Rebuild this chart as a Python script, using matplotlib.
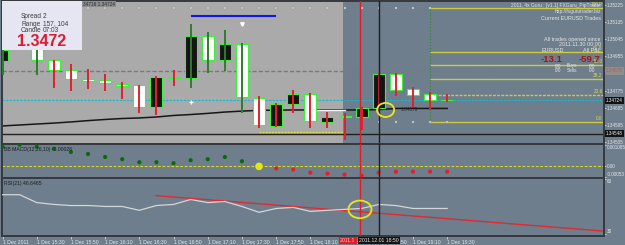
import matplotlib
matplotlib.use("Agg")
import matplotlib.pyplot as plt
from matplotlib.patches import Ellipse, Rectangle
import numpy as np

plt.rcParams['font.family'] = ['Liberation Sans', 'DejaVu Sans']

# ------------------------------------------------------------------ data
opens  = [1.34930, 1.35004, 1.35030, 1.34936, 1.34883, 1.34836, 1.34830, 1.34809, 1.34804,
          1.34689, 1.34846, 1.34841, 1.35062, 1.34936, 1.35020, 1.34736, 1.34589, 1.34704,
          1.34757, 1.34610, 1.34641, 1.34636, 1.34683, 1.34862, 1.34783, 1.34757, 1.34728]
highs  = [1.35009, 1.35062, 1.35051, 1.34936, 1.34915, 1.34888, 1.34862, 1.34820, 1.34804,
          1.34852, 1.34883, 1.35125, 1.35083, 1.35093, 1.35025, 1.34746, 1.34710, 1.34778,
          1.34762, 1.34662, 1.34657, 1.34689, 1.34867, 1.34867, 1.34794, 1.34767, 1.34757]
lows   = [1.34857, 1.34999, 1.34857, 1.34788, 1.34773, 1.34783, 1.34773, 1.34731, 1.34657,
          1.34646, 1.34799, 1.34788, 1.34867, 1.34878, 1.34657, 1.34578, 1.34583, 1.34657,
          1.34578, 1.34578, 1.34515, 1.34568, 1.34673, 1.34746, 1.34683, 1.34673, 1.34715]
closes = [1.34988, 1.35046, 1.34936, 1.34883, 1.34836, 1.34825, 1.34815, 1.34799, 1.34689,
          1.34846, 1.34843, 1.35062, 1.34936, 1.35020, 1.34741, 1.34594, 1.34704, 1.34757,
          1.34615, 1.34636, 1.34638, 1.34683, 1.34862, 1.34778, 1.34752, 1.34725, 1.34724]
wick_green = [0, 1, 2, 11, 12, 13, 14]

ma_vals = [1.34589, 1.34594, 1.34599, 1.34604, 1.34610, 1.34617, 1.34623, 1.34628, 1.34631,
           1.34636, 1.34644, 1.34649, 1.34655, 1.34662, 1.34667, 1.34671, 1.34672, 1.34673,
           1.34673, 1.34673, 1.34673, 1.34673, 1.34675, 1.34681, 1.34681, 1.34681, 1.34681]

macd_vals = [0.00098, 0.00109, 0.00098, 0.00088, 0.00072, 0.00062, 0.00047, 0.00036, 0.00021,
             0.00021, 0.00016, 0.00031, 0.00036, 0.00047, 0.00026, 0.00000, -0.00010, -0.00016,
             -0.00031, -0.00036, -0.00041, -0.00047, -0.00031, -0.00026, -0.00026, -0.00026, -0.00026]

rsi_vals = [51.4, 51.4, 47.1, 46.1, 45.5, 45.5, 45.0, 45.0, 42.9, 45.5, 46.1, 48.8, 47.1, 47.7,
            45.0, 41.8, 43.9, 44.5, 42.3, 42.9, 43.4, 43.9, 46.1, 45.5, 43.9, 43.9, 43.9]
rsi_trend_x = [8.98, 35.1]
rsi_trend_y = [50.9, 31.6]

time_label_idx = [0, 2, 4, 6, 8, 10, 12, 14, 16, 18, 20, 22, 24, 26]
time_labels = ["1 Dec 2011", "1 Dec 15:30", "1 Dec 15:50", "1 Dec 16:10", "1 Dec 16:30",
               "1 Dec 16:50", "1 Dec 17:10", "1 Dec 17:30", "1 Dec 17:50", "1 Dec 18:10",
               "1 Dec 18:30", "1 Dec 18:50", "1 Dec 19:10", "1 Dec 19:30"]

price_ticks = [1.35225, 1.35135, 1.35045, 1.34955, 1.34865, 1.34775, 1.34685, 1.34595, 1.34505]
price_tick_labels = ["1.35225", "1.35135", "1.35045", "1.34955", "1.34865", "1.34775",
                     "1.34685", "1.34595", "1.34505"]
macd_ticks = [0.001085, 0.0, -0.00053]
macd_tick_labels = ["0.001085", "0.00", "-0.00053"]
rsi_ticks = [60, 30]
rsi_tick_labels = ["60", "30"]

fib_names = ["0.0", "23.6", "38.2", "50.0", "61.8", "100.0"]
fib_prices = [1.34610, 1.34752, 1.34838, 1.34909, 1.34980, 1.35209]
fib_start = 25

bid_price = 1.34724
dash_price = 1.34878
black_price = 1.34548
blue_price, blue_from, blue_to = 1.35167, 11, 16
ydot_price, ydot_from, ydot_to = 1.34557, 15, 20
white_seg_x, white_seg_y = [18, 20], [1.34673, 1.34673]
top_marks_idx = list(range(5, 26))
top_marks_price = 1.35209
low_marks_idx = [22, 23, 24, 25, 26]
low_marks_price = 1.34610
red_vline, black_vline = 20.93, 22.0
gray_until = 19.9

# ------------------------------------------------------------------ style
W, H = 625, 245
SLATE = '#6e7e8c'
LIGHT = '#aaaaaa'
SPINE = '#363a3e'
LBL = '#e4e6e8'
FS = 3.7
YFS = 3.3

fig = plt.figure(figsize=(W / 100, H / 100), dpi=100, facecolor=SLATE)


def px_axes(x0, y0, x1, y1):
    return fig.add_axes([x0 / W, 1 - y1 / H, (x1 - x0) / W, (y1 - y0) / H])


def ftext(x, y, s, **kw):
    kw.setdefault('fontsize', FS)
    kw.setdefault('color', LBL)
    kw.setdefault('va', 'center')
    kw.setdefault('zorder', 7)
    return fig.text(x / W, 1 - y / H, s, **kw)


ax = px_axes(2, 1, 604, 144)
axm = px_axes(2, 144, 604, 178)
axr = px_axes(2, 178, 604, 236)
XL = (-0.03, 35.17)
for a in (ax, axm, axr):
    a.set_facecolor(SLATE)
    a.set_xlim(*XL)
    for s in a.spines.values():
        s.set_color(SPINE)
        s.set_linewidth(1.4)
    a.yaxis.tick_right()
    a.tick_params(axis='y', labelsize=YFS, colors=LBL, length=1.2, width=0.5, pad=0.6)
    a.axvline(red_vline, color='#e21e24', lw=1.0, zorder=6)
    a.axvline(black_vline, color='#1e1e1e', lw=1.0, zorder=6)
ax.set_xticks([])
axm.set_xticks([])

idx = np.arange(len(opens))

# ---------------------------------------------------------- main panel
ax.set_ylim(1.34494, 1.35246)
ax.axvspan(XL[0], gray_until, color=LIGHT, zorder=0, lw=0)
ax.axhline(dash_price, color='#7a7a7a', lw=1.0, ls=(0, (3, 1.5)), zorder=1)
ax.axhline(bid_price, color='#18b8cc', lw=0.8, ls=(0, (2, 1.2)), zorder=1)
ax.axhline(black_price, color='#222222', lw=1.0, zorder=1)
ax.hlines(blue_price, blue_from, blue_to, color='#1414e6', lw=1.5, zorder=2)
ax.hlines(ydot_price, ydot_from, ydot_to, color='#e4e428', lw=0.9, ls=(0, (1.5, 1)), zorder=2)

for nm, pr in zip(fib_names, fib_prices):
    ls = (0, (2, 1)) if nm == "23.6" else '-'
    ax.hlines(pr, fib_start, XL[1], color='#cccc3c', lw=1.0, ls=ls, zorder=2)
    ax.annotate(nm, xy=(1, pr), xycoords=('axes fraction', 'data'), xytext=(-1, 0.6),
                textcoords='offset points', ha='right', va='bottom', fontsize=3.4,
                color='#d8d84a', zorder=3)
ax.vlines(fib_start, fib_prices[0], fib_prices[-1], color='#2f8a2f', lw=0.8, ls=':', zorder=2)

ax.plot(idx, ma_vals, color='#161616', lw=1.1, zorder=2)
ax.plot(white_seg_x, white_seg_y, color='#f2f2f2', lw=1.0, zorder=2)

o = np.array(opens); c = np.array(closes)
body_bottom = np.minimum(o, c)
body_h = np.abs(c - o)
face = ['#ffffff' if cc < oo else '#141414' for oo, cc in zip(opens, closes)]
ax.bar(idx, body_h, bottom=body_bottom, width=0.7, color=face, edgecolor='#3cf03c',
       linewidth=0.8, zorder=3)
wcol = ['#2e7d2e' if i in wick_green else '#e4202c' for i in idx]
ax.vlines(idx, lows, highs, colors=wcol, lw=1.4, zorder=4)

ax.scatter(top_marks_idx, [top_marks_price] * len(top_marks_idx), marker='s', s=3,
           facecolor='#e2e2e2', edgecolor='#8c8c8c', linewidths=0.3, zorder=5)
ax.scatter(low_marks_idx, [low_marks_price] * len(low_marks_idx), marker='s', s=3,
           facecolor='#e2e2e2', edgecolor='#8c8c8c', linewidths=0.3, zorder=5)
ax.plot([11], [1.34715], marker='+', color='white', ms=3.5, mew=0.9, zorder=5)
ax.plot([14], [1.35125], marker='v', color='white', ms=2.5, zorder=5)

ax.add_patch(Ellipse((22.4, 1.34673), 1.0, 0.00074, fill=False, edgecolor='#e8e818',
                     lw=1.3, zorder=7))
ax.text(23.3, 1.34673, "1.34679", fontsize=3.4, color='#2a2a2a', va='center', zorder=7)

ax.set_yticks(price_ticks)
ax.set_yticklabels(price_tick_labels)


def price_box(a, y, s, fc, tc):
    a.annotate(s, xy=(1, y), xycoords=('axes fraction', 'data'), xytext=(1.4, 0),
               textcoords='offset points', ha='left', va='center', fontsize=YFS, color=tc,
               bbox=dict(facecolor=fc, edgecolor='none', pad=0.9), zorder=8,
               annotation_clip=False)


price_box(ax, dash_price, "1.34878", '#8e8e8e', '#b45a5a')
price_box(ax, bid_price, "1.34724", '#121212', '#f0f0f0')
price_box(ax, black_price, "1.34548", '#121212', '#f0f0f0')

# ---------------------------------------------------------- MACD panel
axm.set_ylim(-0.00058, 0.00112)
axm.axhline(0, color='#d8d820', lw=0.8, ls=(0, (2.5, 1.5)), zorder=1)
mcol = ['#e6e614' if v == 0 else ('#0a6a0a' if v > 0 else '#e2202a') for v in macd_vals]
msz = [30 if v == 0 else 9 for v in macd_vals]
axm.scatter(idx, macd_vals, c=mcol, s=msz, linewidths=0, zorder=3)
axm.set_yticks(macd_ticks)
axm.set_yticklabels(macd_tick_labels)
mlabs = axm.get_yticklabels()
mlabs[0].set_va('top'); mlabs[2].set_va('bottom')
axm.text(0.003, 0.85, "BB MACD(12,26,10) -0.00026", transform=axm.transAxes,
         fontsize=FS, color='#1e1e1e', va='center', zorder=5)

# ---------------------------------------------------------- RSI panel
axr.set_ylim(28.9, 60.5)
axr.plot(idx, rsi_vals, color='#d4d6d8', lw=0.9, zorder=3)
axr.plot(rsi_trend_x, rsi_trend_y, color='#e02a30', lw=1.0, zorder=2)
axr.add_patch(Ellipse((20.9, 43.4), 1.35, 9.6, fill=False, edgecolor='#e8e818', lw=1.3, zorder=7))
axr.set_yticks(rsi_ticks)
axr.set_yticklabels(rsi_tick_labels)
rlabs = axr.get_yticklabels()
rlabs[0].set_va('top'); rlabs[1].set_va('bottom')
axr.text(0.003, 0.91, "RSI(21) 46.6465", transform=axr.transAxes,
         fontsize=FS, color='#1e1e1e', va='center', zorder=5)
axr.set_xticks(time_label_idx)
axr.set_xticklabels(time_labels, ha='left')
axr.tick_params(axis='x', labelsize=FS, colors=LBL, length=2, width=0.5, pad=1.2)

# crosshair time boxes
ftext(340, 240.5, "2011.1", color='#f4c8c8', zorder=8,
      bbox=dict(facecolor='#e01e24', edgecolor='none', pad=0.9))
ftext(359, 240.5, "2011.12.01 18:50", color='#e8e8e8', zorder=9,
      bbox=dict(facecolor='#141414', edgecolor='none', pad=0.9))

# ---------------------------------------------------------- info box & texts
fig.patches.append(Rectangle((2 / W, 1 - 50 / H), 80 / W, 49 / H, transform=fig.transFigure,
                             facecolor='#e6e6f2', edgecolor='none', zorder=6))
ftext(21, 16, "Spread", fontsize=4.7, color='#3c3c3c')
ftext(43, 16, "2", fontsize=4.7, color='#3c3c3c')
ftext(21, 24, "Range", fontsize=4.7, color='#3c3c3c')
ftext(43, 24, "157, 104", fontsize=4.7, color='#3c3c3c')
ftext(21, 31, "Candle", fontsize=4.7, color='#3c3c3c')
ftext(43, 31, "07:03", fontsize=4.7, color='#3c3c3c')
ftext(16.5, 41.5, "1.3472", fontsize=11.5, color='#d81c34', fontweight='bold')
ftext(83, 4, "34716 1.34724", fontsize=3.4, color='#2c2c2c',
      bbox=dict(facecolor='#8e8e8e', edgecolor='none', pad=0.6))

ftext(601, 5, "2011, 4x Guru : [v1.1] FXGuru_PipTrader", ha='right', fontsize=3.5)
ftext(601, 11, "http://fxgurutrader.biz", ha='right', fontsize=3.5)
ftext(601, 18, "Current EURUSD Trades", ha='right', fontsize=3.9)
ftext(601, 40, "All trades opened since", ha='right', fontsize=3.9)
ftext(601, 45, "2011.11.30 00:00", ha='right', fontsize=3.9)
ftext(542, 50, "EURUSD", fontsize=3.9)
ftext(601, 50, "All P&L", ha='right', fontsize=3.9)
ftext(541, 59, "-13.1", fontsize=6.8, color='#a81212', fontweight='bold')
ftext(600, 59, "-59.7", ha='right', fontsize=6.8, color='#a81212', fontweight='bold')
for yy, word in ((66, "Buys"), (71, "Sells")):
    ftext(555, yy, "0/0", fontsize=3.4)
    ftext(567, yy, word, fontsize=3.4)
    ftext(589, yy, "0/0", fontsize=3.4)

fig.savefig("out.png", dpi=100, facecolor=SLATE)
